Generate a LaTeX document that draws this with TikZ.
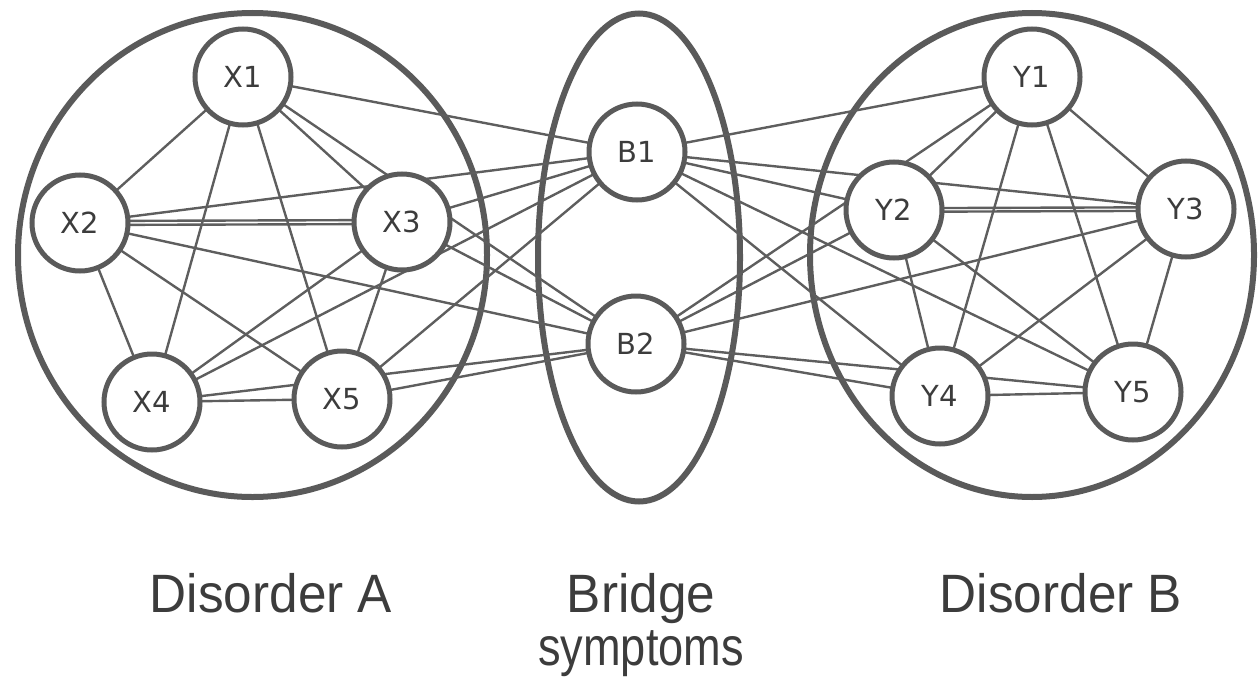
\documentclass[tikz,border=0pt]{standalone}
\usepackage{fontspec}
\newfontfamily\labfont[FakeStretch=0.95]{Liberation Sans}
\newfontfamily\symfont{DejaVu Sans}
\definecolor{strokegray}{HTML}{5A5A5A}
\definecolor{edgegray}{HTML}{5E5E5E}
\definecolor{textgray}{HTML}{3C3C3C}
\pgfdeclarelayer{bg}
\pgfsetlayers{bg,main}
\tikzset{
  sym/.style={circle, draw=strokegray, line width=5pt, fill=white, minimum size=96pt, inner sep=0pt,
    font=\symfont\fontsize{29}{29}\selectfont, text=textgray},
  grp/.style={draw=strokegray, line width=6pt},
  edge/.style={draw=edgegray, line width=2.4pt},
  lab/.style={font=\labfont\fontsize{54}{54}\selectfont, text=textgray, anchor=base, inner sep=0pt}
}
\begin{document}
\begin{tikzpicture}[x=1pt,y=-1pt]
\useasboundingbox (0,0) rectangle (1260,685);
% symptom nodes
\node[sym] (X1) at (243,77) {X1};
\node[sym] (X2) at (80,223) {X2};
\node[sym] (X3) at (402,222) {X3};
\node[sym] (X4) at (152,402) {X4};
\node[sym] (X5) at (342,399) {X5};
\node[sym] (B1) at (637,152) {B1};
\node[sym] (B2) at (636,344) {B2};
\node[sym] (Y1) at (1032,77) {Y1};
\node[sym] (Y2) at (894,210) {Y2};
\node[sym] (Y3) at (1186,209) {Y3};
\node[sym] (Y4) at (940,396) {Y4};
\node[sym] (Y5) at (1133,392) {Y5};
% group outlines
\node[draw=none, inner sep=0pt] (gA) at (252.5,255) {};
\node[draw=none, inner sep=0pt] (gBr) at (639,257.5) {};
\node[draw=none, inner sep=0pt] (gB) at (1032,255) {};
\begin{pgfonlayer}{bg}
\draw[grp] (gA) ellipse [x radius=234.5, y radius=242];
\draw[grp] (gBr) ellipse [x radius=101, y radius=244];
\draw[grp] (gB) ellipse [x radius=222, y radius=242];
% edges within disorder A
\foreach \a/\b in {X1/X2,X1/X3,X1/X4,X1/X5,X2/X4,X2/X5,X3/X4,X3/X5,X4/X5}
  \draw[edge] (\a.center) -- (\b.center);
\draw[edge] ([yshift=-2pt]X2.center) -- ([yshift=-2pt]X3.center);
\draw[edge] ([yshift=2pt]X2.center) -- ([yshift=2pt]X3.center);
% edges within disorder B
\foreach \a/\b in {Y1/Y2,Y1/Y3,Y1/Y4,Y1/Y5,Y2/Y4,Y2/Y5,Y3/Y4,Y3/Y5,Y4/Y5}
  \draw[edge] (\a.center) -- (\b.center);
\draw[edge] ([yshift=-1.8pt]Y2.center) -- ([yshift=-1.8pt]Y3.center);
\draw[edge] ([yshift=1.8pt]Y2.center) -- ([yshift=1.8pt]Y3.center);
% bridge edges
\foreach \a in {X1,X2,X3,X4,X5,Y1,Y2,Y3,Y4,Y5}
  \foreach \b in {B1,B2}
    \draw[edge] (\a.center) -- (\b.center);
\end{pgfonlayer}
% labels
\node[lab] (labA) at (271,612) {Disorder A};
\node[lab] (labBr1) at (641,612) {Bridge};
\node[lab, xscale=0.88] (labBr2) at (641,665) {symptoms};
\node[lab] (labB) at (1061,612) {Disorder B};
\end{tikzpicture}
\end{document}
